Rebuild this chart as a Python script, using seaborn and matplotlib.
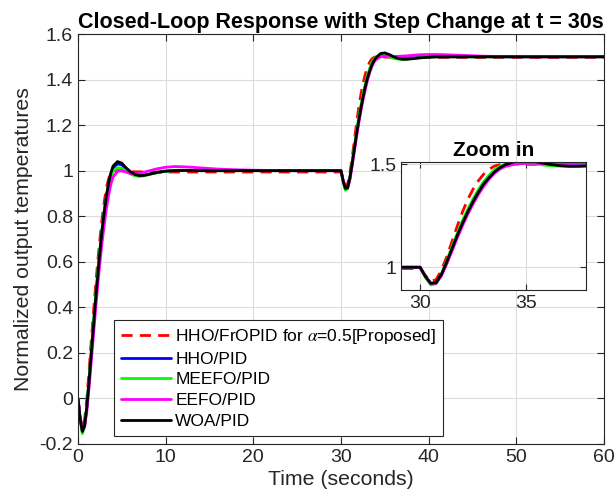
import numpy as np
import pandas as pd
import matplotlib
matplotlib.use("Agg")
import matplotlib.pyplot as plt
from matplotlib.ticker import FuncFormatter
import seaborn as sns

# ---- time base (s): first step at t=0, setpoint change at t=30 ----
t_first = [0, 0.25, 0.5, 0.75, 1.0, 1.25, 1.5, 1.75, 2.0, 2.25, 2.5, 2.75, 3.0, 3.25,
           3.5, 3.75, 4.0, 4.5, 5.0, 5.5, 6.0, 6.5, 7.0, 7.5, 8, 9, 10, 11, 12, 13, 14,
           16, 18, 20, 22, 25, 28, 30]
t_second = [30.25, 30.5, 30.75, 31.0, 31.25, 31.5, 31.75, 32.0, 32.25, 32.5, 32.75, 33.0,
            33.25, 33.5, 33.75, 34.0, 34.5, 35.0, 35.5, 36.0, 36.5, 37.0, 37.5, 38, 39,
            40, 41, 42, 44, 46, 48, 50, 55, 60]

# ---- normalized output temperatures ----
hho_fropid_1 = [0, -0.08, -0.135, -0.095, -0.005, 0.115, 0.245, 0.37, 0.49, 0.60, 0.70,
                0.79, 0.865, 0.925, 0.965, 0.99, 1.0, 1.001, 0.999, 0.997, 0.996, 0.995,
                0.995, 0.994, 0.994, 0.994, 0.994, 0.994, 0.994, 0.994, 0.994, 0.994,
                0.994, 0.994, 0.994, 0.994, 0.994, 0.994]
hho_fropid_2 = [0.96, 0.932, 0.94, 0.985, 1.05, 1.125, 1.2, 1.27, 1.33, 1.38, 1.42,
                1.452, 1.475, 1.49, 1.497, 1.5, 1.5, 1.499, 1.498, 1.497, 1.497, 1.497,
                1.497, 1.497, 1.497, 1.497, 1.497, 1.497, 1.497, 1.497, 1.497, 1.497,
                1.497, 1.497]

hho_pid_1 = [0, -0.09, -0.145, -0.12, -0.04, 0.07, 0.19, 0.31, 0.43, 0.54, 0.645, 0.74,
             0.82, 0.89, 0.943, 0.985, 1.012, 1.03, 1.025, 1.008, 0.993, 0.983, 0.979,
             0.98, 0.984, 0.992, 0.998, 1.0, 1.001, 1.001, 1.0, 1.0, 1.0, 1.0, 1.0, 1.0,
             1.0, 1.0]
hho_pid_2 = [0.955, 0.922, 0.925, 0.965, 1.025, 1.09, 1.155, 1.215, 1.27, 1.32, 1.365,
             1.405, 1.436, 1.462, 1.481, 1.494, 1.508, 1.51, 1.506, 1.5, 1.495, 1.493,
             1.493, 1.495, 1.498, 1.5, 1.5, 1.5, 1.5, 1.5, 1.5, 1.5, 1.5, 1.5]

meefo_pid_1 = [0, -0.095, -0.155, -0.125, -0.035, 0.08, 0.205, 0.325, 0.445, 0.555, 0.655,
               0.745, 0.825, 0.89, 0.94, 0.975, 0.998, 1.013, 1.01, 0.998, 0.985, 0.977,
               0.975, 0.977, 0.982, 0.991, 0.997, 1.0, 1.001, 1.001, 1.0, 1.0, 1.0, 1.0,
               1.0, 1.0, 1.0, 1.0]
meefo_pid_2 = [0.95, 0.914, 0.92, 0.965, 1.03, 1.1, 1.165, 1.228, 1.283, 1.333, 1.378,
               1.416, 1.447, 1.472, 1.489, 1.5, 1.508, 1.506, 1.499, 1.493, 1.49, 1.489,
               1.49, 1.492, 1.496, 1.499, 1.5, 1.5, 1.5, 1.5, 1.5, 1.5, 1.5, 1.5]

eefo_pid_1 = [0, -0.088, -0.142, -0.125, -0.06, 0.04, 0.155, 0.27, 0.385, 0.495, 0.595,
              0.685, 0.765, 0.835, 0.893, 0.94, 0.972, 0.997, 1.0, 0.994, 0.987, 0.985,
              0.988, 0.993, 0.998, 1.008, 1.015, 1.018, 1.017, 1.015, 1.012, 1.007, 1.004,
              1.002, 1.001, 1.0, 1.0, 1.0]
eefo_pid_2 = [0.955, 0.922, 0.922, 0.958, 1.015, 1.078, 1.142, 1.202, 1.258, 1.308, 1.353,
              1.393, 1.427, 1.455, 1.475, 1.488, 1.5, 1.503, 1.503, 1.502, 1.502, 1.503,
              1.504, 1.506, 1.509, 1.51, 1.51, 1.509, 1.506, 1.503, 1.501, 1.5, 1.5, 1.5]

woa_pid_1 = [0, -0.09, -0.145, -0.12, -0.04, 0.07, 0.19, 0.31, 0.43, 0.54, 0.645, 0.74,
             0.82, 0.89, 0.945, 0.99, 1.02, 1.04, 1.033, 1.012, 0.995, 0.983, 0.978,
             0.979, 0.983, 0.992, 0.998, 1.0, 1.001, 1.001, 1.0, 1.0, 1.0, 1.0, 1.0, 1.0,
             1.0, 1.0]
woa_pid_2 = [0.955, 0.922, 0.925, 0.965, 1.025, 1.09, 1.155, 1.215, 1.27, 1.32, 1.365,
             1.405, 1.435, 1.462, 1.482, 1.496, 1.514, 1.517, 1.51, 1.5, 1.493, 1.489,
             1.489, 1.491, 1.495, 1.498, 1.5, 1.5, 1.5, 1.5, 1.5, 1.5, 1.5, 1.5]

labels = ["HHO/FrOPID for $\\alpha$=0.5[Proposed]", "HHO/PID", "MEEFO/PID",
          "EEFO/PID", "WOA/PID"]
colors = ["#ff0000", "#0000ff", "#00ff00", "#ff00ff", "#000000"]
series = [(hho_fropid_1, hho_fropid_2), (hho_pid_1, hho_pid_2),
          (meefo_pid_1, meefo_pid_2), (eefo_pid_1, eefo_pid_2),
          (woa_pid_1, woa_pid_2)]

time = t_first + t_second
frames = []
for name, (a, b) in zip(labels, series):
    vals = a + b
    assert len(vals) == len(time), name
    frames.append(pd.DataFrame({"Time": time, "Output": vals, "Controller": name}))
df = pd.concat(frames, ignore_index=True)

sns.set_theme(style="ticks")
plt.rcParams["font.family"] = ["Liberation Sans", "DejaVu Sans"]
plt.rcParams["mathtext.fontset"] = "stix"
plt.rcParams["xtick.direction"] = "in"
plt.rcParams["ytick.direction"] = "in"

palette = dict(zip(labels, colors))
dashes = {lab: ((4, 2.6) if i == 0 else "") for i, lab in enumerate(labels)}
ink = "#262626"

fig = plt.figure(figsize=(6.16, 5.03), dpi=100)
ax = fig.add_axes([0.1266, 0.1173, 0.8539, 0.8151])

sns.lineplot(data=df, x="Time", y="Output", hue="Controller", style="Controller",
             palette=palette, dashes=dashes, hue_order=labels, style_order=labels,
             linewidth=2.0, sort=False, estimator=None, ax=ax)

ax.set_xlim(0, 60)
ax.set_ylim(-0.2, 1.6)
ax.set_xticks(np.arange(0, 61, 10))
ax.set_yticks(np.round(np.arange(-0.2, 1.61, 0.2), 1))
fmt = FuncFormatter(lambda v, p: f"{v:g}")
ax.yaxis.set_major_formatter(fmt)
ax.xaxis.set_major_formatter(fmt)
ax.grid(True, color="#dcdcdc", linewidth=0.8)
ax.tick_params(axis="both", labelsize=14, colors=ink, length=5, width=0.8,
               top=True, right=True, labelcolor=ink)
for s in ax.spines.values():
    s.set_color(ink)
    s.set_linewidth(0.8)
ax.set_xlabel("Time (seconds)", fontsize=15.3, color=ink, labelpad=3)
ax.set_ylabel("Normalized output temperatures", fontsize=15.3, color=ink, labelpad=5)
ax.set_title("Closed-Loop Response with Step Change at t = 30s", fontsize=15.5,
             fontweight="bold", color="black", pad=4)

leg = ax.legend(loc="lower left", bbox_to_anchor=(0.068, 0.02), borderaxespad=0,
                fontsize=12.5, frameon=True, fancybox=False, handlelength=2.9,
                handletextpad=0.25, labelspacing=0.32, borderpad=0.4)
leg.get_frame().set_edgecolor(ink)
leg.get_frame().set_linewidth(0.8)
leg.get_frame().set_facecolor("white")
leg.get_frame().set_alpha(1)
for txt in leg.get_texts():
    txt.set_color("black")

# zoomed view of the setpoint change
axin = fig.add_axes([0.651, 0.4235, 0.300, 0.2545])
axin.set_facecolor("white")
sns.lineplot(data=df, x="Time", y="Output", hue="Controller", style="Controller",
             palette=palette, dashes=dashes, hue_order=labels, style_order=labels,
             linewidth=2.0, sort=False, estimator=None, legend=False, ax=axin)
axin.set_xlim(29.1, 37.8)
axin.set_ylim(0.89, 1.51)
axin.set_xticks([30, 35])
axin.set_yticks([1, 1.5])
axin.xaxis.set_major_formatter(fmt)
axin.yaxis.set_major_formatter(fmt)
axin.grid(True, color="#dcdcdc", linewidth=0.8)
axin.tick_params(axis="both", labelsize=14, colors=ink, length=4, width=0.8,
                 top=True, right=True, labelcolor=ink)
for s in axin.spines.values():
    s.set_color(ink)
    s.set_linewidth(0.8)
axin.set_xlabel("")
axin.set_ylabel("")
axin.set_title("Zoom in", fontsize=15, fontweight="bold", color="black", pad=4)

fig.savefig("out.png", dpi=100)
